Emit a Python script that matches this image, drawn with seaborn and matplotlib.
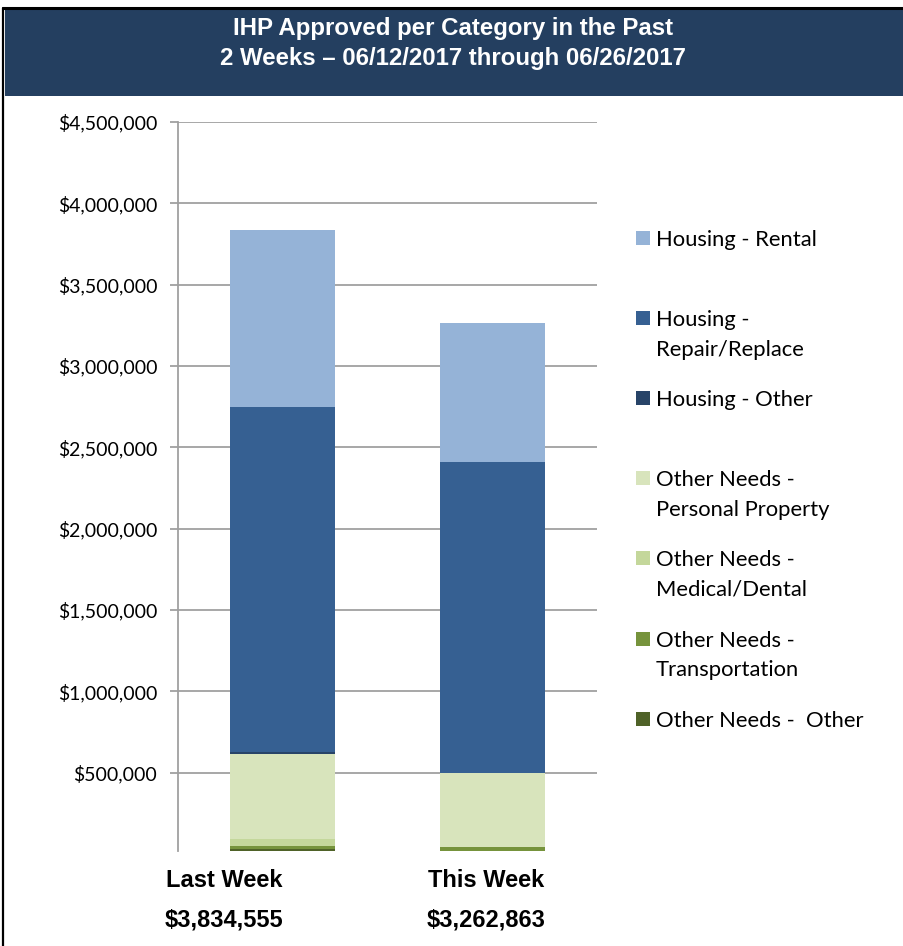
import matplotlib
matplotlib.use("Agg")
import matplotlib.pyplot as plt
import seaborn as sns
import numpy as np
from matplotlib.patches import Rectangle
from matplotlib.lines import Line2D
from matplotlib.ticker import FuncFormatter

# ---------------- data ----------------
weeks = ["Last Week", "This Week"]
series_names = ["Housing - Rental", "Housing - Repair/Replace", "Housing - Other",
                "Other Needs - Personal Property", "Other Needs - Medical/Dental",
                "Other Needs - Transportation", "Other Needs - Other"]
legend_labels = ["Housing - Rental", "Housing -\nRepair/Replace", "Housing - Other",
                 "Other Needs -\nPersonal Property", "Other Needs -\nMedical/Dental",
                 "Other Needs -\nTransportation", "Other Needs -  Other"]
housing_rental = [1084555, 852863]
housing_repair = [2121000, 1910000]
housing_other = [15000, 2000]
personal_property = [522000, 453000]
medical_dental = [43000, 2000]
transportation = [21000, 33000]
other_needs_other = [28000, 10000]
series_colors = ["#95B3D7", "#366092", "#284468", "#D8E4BC", "#C4D79B", "#76933C", "#4F6228"]
yticks = [500000, 1000000, 1500000, 2000000, 2500000, 3000000, 3500000, 4000000, 4500000]
title_lines = ["IHP Approved per Category in the Past",
               "2 Weeks \u2013 06/12/2017 through 06/26/2017"]

# ---------------- figure ----------------
sns.set_theme(style="white")
plt.rcParams["font.family"] = ["Lato", "DejaVu Sans"]
plt.rcParams["text.color"] = "black"

W, H = 904, 946
fig = plt.figure(figsize=(W / 100, H / 100), dpi=100)

def fx(px):
    return px / W

def fy(py):
    return 1 - py / H

ax = fig.add_axes([fx(178), fy(851), fx(597.5) - fx(178), fy(122) - fy(851)])

# stacked (bottom -> top order): other, transportation, medical, personal, housing other, repair, rental
stack_series = [other_needs_other, transportation, medical_dental, personal_property,
                housing_other, housing_repair, housing_rental]
stack_colors = series_colors[::-1]
cum = np.cumsum(np.array(stack_series, dtype=float), axis=0)

ax.set_axisbelow(True)
for i in range(len(stack_series) - 1, -1, -1):
    sns.barplot(x=weeks, y=cum[i], color=stack_colors[i], saturation=1, width=0.5,
                errorbar=None, linewidth=0, ax=ax, zorder=3)

ax.set_xlim(-0.5, 1.5)
ax.set_ylim(18000, 4500000)
ax.set_yticks(yticks)
ax.yaxis.set_major_formatter(FuncFormatter(lambda v, p: f"${v:,.0f}"))
ax.set_xticks([])
ax.set_xlabel("")
ax.set_ylabel("")
ax.grid(axis="y", color="#A0A0A0", linewidth=1.3)
ax.grid(axis="x", visible=False)
for s in ["top", "right", "bottom"]:
    ax.spines[s].set_visible(False)
ax.spines["left"].set_color("#A0A0A0")
ax.spines["left"].set_linewidth(1.3)
ax.tick_params(axis="y", which="major", left=True, length=6, width=1.3, color="#A0A0A0",
               pad=9, labelsize=14, labelcolor="black")

# ---------------- title band ----------------
fig.patches.append(Rectangle((fx(5), fy(96)), fx(904) - fx(5), fy(10) - fy(96),
                             transform=fig.transFigure, facecolor="#243F60",
                             edgecolor="none", zorder=0))
fig.lines.append(Line2D([fx(3), fx(904)], [fy(8.5), fy(8.5)], transform=fig.transFigure,
                        color="black", linewidth=2.2))
fig.lines.append(Line2D([fx(3), fx(3)], [fy(8), fy(946)], transform=fig.transFigure,
                        color="black", linewidth=1.6))
for text, yy in zip(title_lines, [28, 59]):
    fig.text(fx(453), fy(yy), text, ha="center", va="center", color="white",
             fontsize=17.3, fontweight="bold", family=["Liberation Sans", "DejaVu Sans"])

# ---------------- category labels and totals ----------------
totals = cum[-1]
for wk, tot, xx in zip(weeks, totals, [224, 486]):
    fig.text(fx(xx), fy(880), wk, ha="center", va="center", fontsize=17,
             fontweight="bold", color="black", family=["Liberation Sans", "DejaVu Sans"])
    fig.text(fx(xx), fy(920), f"${tot:,.0f}", ha="center", va="center", fontsize=17,
             fontweight="bold", color="black", family=["Liberation Sans", "DejaVu Sans"])

# ---------------- legend ----------------
for k, (lab, col) in enumerate(zip(legend_labels, series_colors)):
    base = 246 + k * 80.1
    fig.patches.append(Rectangle((fx(636), fy(base - 1)), fx(650) - fx(636), fy(base - 15) - fy(base - 1),
                                 transform=fig.transFigure, facecolor=col, edgecolor="none"))
    for j, line in enumerate(lab.split("\n")):
        fig.text(fx(656), fy(base + j * 29.5), line, ha="left", va="baseline",
                 fontsize=15.8, color="black")

fig.savefig("out.png", dpi=100)
